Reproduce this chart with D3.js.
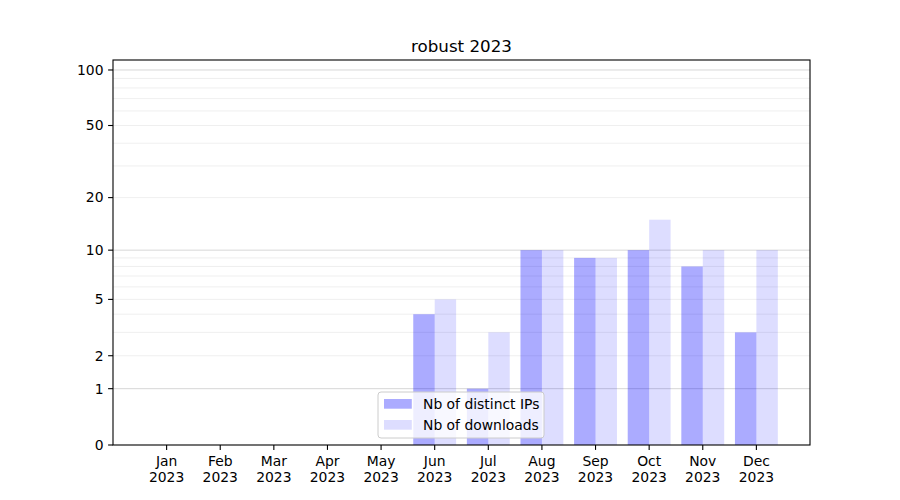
<!DOCTYPE html>
<html><head><meta charset="utf-8">
<script src="https://cdn.jsdelivr.net/npm/d3@7"></script>
<style>body{margin:0;background:#fff;}svg{display:block;font-family:"DejaVu Sans",sans-serif;}</style>
</head><body>
<svg id="chart" width="900" height="500"></svg>
<script>
const title = "robust 2023";
const months = ["Jan","Feb","Mar","Apr","May","Jun","Jul","Aug","Sep","Oct","Nov","Dec"];
const year = "2023";
const distinctIPs = [0,0,0,0,0,4,1,10,9,10,8,3];
const downloads = [0,0,0,0,0,5,3,10,9,15,10,10];
const yTicks = [0,1,2,5,10,20,50,100];
const majorGrid = [1,10,100];
const minorGrid = [2,3,4,5,6,7,8,9,20,30,40,50,60,70,80,90];
const seriesNames = ["Nb of distinct IPs","Nb of downloads"];

const svg = d3.select("#chart");
const L = 113, R = 810, T = 60, B = 445;
const x = d3.scaleLinear().domain([0, 13]).range([L, R]);
const yLog = d3.scaleLog().domain([1, 114.2]).range([B, T]);
const y = v => yLog(v + 1);
const step = x(1) - x(0);
const bw = step * 0.4;

// grid
svg.append("g").selectAll("line").data(minorGrid).join("line")
  .attr("x1", L).attr("x2", R).attr("y1", d => y(d)).attr("y2", d => y(d))
  .attr("stroke", "#ebebeb").attr("stroke-width", 0.8);
svg.append("g").selectAll("line").data(majorGrid).join("line")
  .attr("x1", L).attr("x2", R).attr("y1", d => y(d)).attr("y2", d => y(d))
  .attr("stroke", "#cccccc").attr("stroke-width", 0.8);

// bars
svg.append("g").selectAll("rect").data(distinctIPs).join("rect")
  .attr("x", (d, i) => x(i + 1) - bw).attr("width", bw)
  .attr("y", d => y(d)).attr("height", d => B - y(d))
  .attr("fill", "blue").attr("fill-opacity", 0.33);
svg.append("g").selectAll("rect").data(downloads).join("rect")
  .attr("x", (d, i) => x(i + 1)).attr("width", bw)
  .attr("y", d => y(d)).attr("height", d => B - y(d))
  .attr("fill", "blue").attr("fill-opacity", 0.135);

// axes frame
svg.append("rect").attr("x", L).attr("y", T).attr("width", R - L).attr("height", B - T)
  .attr("fill", "none").attr("stroke", "black").attr("stroke-width", 1.1);

// y axis
const yAxis = svg.append("g").attr("transform", `translate(${L},0)`);
yAxis.selectAll("line").data(yTicks).join("line")
  .attr("x1", -4.9).attr("x2", 0).attr("y1", d => y(d)).attr("y2", d => y(d))
  .attr("stroke", "black").attr("stroke-width", 1.1);
yAxis.selectAll("text").data(yTicks).join("text")
  .attr("x", -9.5).attr("y", d => y(d)).attr("dy", "0.35em")
  .attr("text-anchor", "end").attr("font-size", 13.9).attr("fill", "black")
  .text(d => d);

// x axis
const xAxis = svg.append("g");
xAxis.selectAll("line").data(months).join("line")
  .attr("x1", (d, i) => x(i + 1)).attr("x2", (d, i) => x(i + 1))
  .attr("y1", B).attr("y2", B + 4.9).attr("stroke", "black").attr("stroke-width", 1.1);
const xt = xAxis.selectAll("text").data(months).join("text")
  .attr("text-anchor", "middle").attr("font-size", 13.9).attr("fill", "black");
xt.append("tspan").attr("x", (d, i) => x(i + 1)).attr("y", 466).text(d => d);
xt.append("tspan").attr("x", (d, i) => x(i + 1)).attr("y", 482).text(year);

// title
svg.append("text").attr("x", (L + R) / 2).attr("y", 52).attr("text-anchor", "middle")
  .attr("font-size", 16.7).attr("fill", "black").text(title);

// legend
const lg = svg.append("g");
lg.append("rect").attr("x", 378).attr("y", 392).attr("width", 166).attr("height", 46)
  .attr("rx", 3).attr("fill", "white").attr("fill-opacity", 0.8)
  .attr("stroke", "#cccccc").attr("stroke-width", 1);
const opac = [0.33, 0.135];
seriesNames.forEach((n, i) => {
  const cy = 404 + i * 21;
  lg.append("rect").attr("x", 384).attr("y", cy - 5).attr("width", 27.8).attr("height", 9.7)
    .attr("fill", "blue").attr("fill-opacity", opac[i]);
  lg.append("text").attr("x", 423).attr("y", cy).attr("dy", "0.35em")
    .attr("font-size", 13.9).attr("fill", "black").text(n);
});
</script>
</body></html>
